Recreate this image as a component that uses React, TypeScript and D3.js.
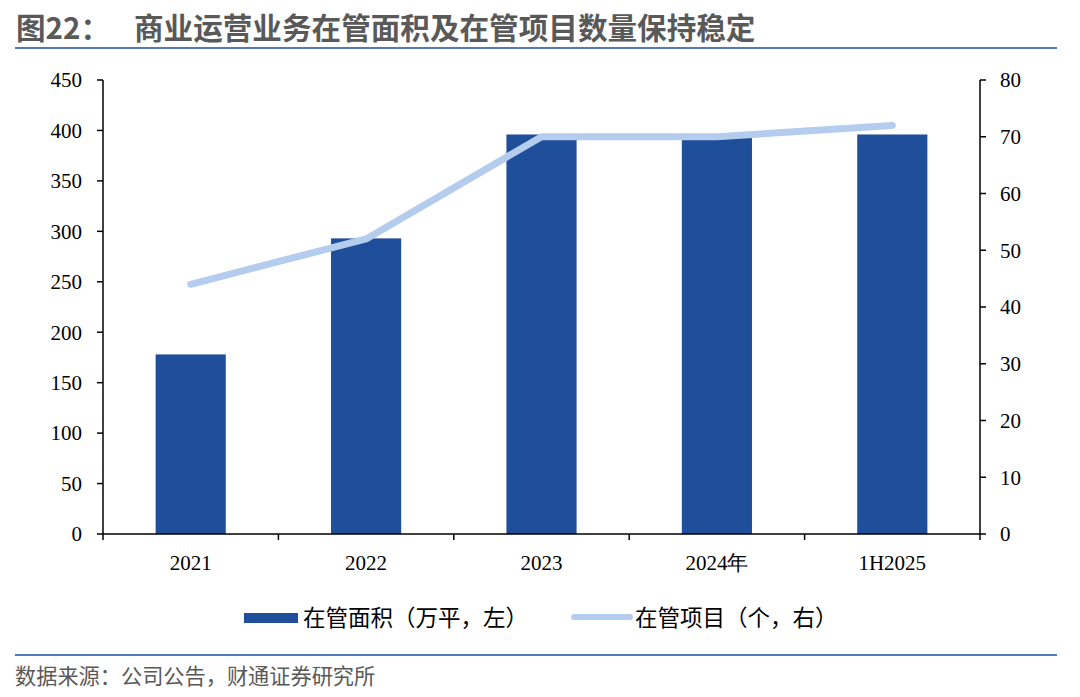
import * as d3 from "d3";

const categories = ["2021", "2022", "2023", "2024年", "1H2025"];
const areaValues = [178, 293, 396, 394, 396]; // 在管面积（万平）
const projectValues = [44, 52, 70, 70, 72]; // 在管项目（个）
const leftTicks = [0, 50, 100, 150, 200, 250, 300, 350, 400, 450];
const rightTicks = [0, 10, 20, 30, 40, 50, 60, 70, 80];

const W = 1080;
const H = 697;
const PLOT = { left: 103, right: 980, top: 80, bottom: 534 };

const BAR = "#1f4e9a";
const LINE = "#b4cdee";
const SERIF = "'Liberation Serif', 'Times New Roman', serif";
const SANS = "'Noto Sans CJK SC', 'Noto Sans', sans-serif";

export default function App() {
  const x = d3
    .scaleBand<string>()
    .domain(categories)
    .range([PLOT.left, PLOT.right])
    .paddingInner(0)
    .paddingOuter(0);
  const yL = d3.scaleLinear().domain([0, 450]).range([PLOT.bottom, PLOT.top]);
  const yR = d3.scaleLinear().domain([0, 80]).range([PLOT.bottom, PLOT.top]);

  const bw = x.bandwidth() * 0.4;
  const cx = (c: string) => (x(c) ?? 0) + x.bandwidth() / 2;

  const line = d3
    .line<number>()
    .x((_d, i) => cx(categories[i]))
    .y((d) => yR(d));

  const bandEdges = categories.map((c) => x(c) ?? 0).concat([PLOT.right]);

  return (
    <div style={{ position: "absolute", left: 0, top: 0 }}>
      <svg width={W} height={H} style={{ display: "block", background: "#fff" }}>
        {/* title */}
        <text x={16} y={39} fontFamily={SANS} fontWeight={700} fontSize={29.6} fill="#595959">
          图22：
        </text>
        <text x={134} y={39} fontFamily={SANS} fontWeight={700} fontSize={29.6} fill="#595959">
          商业运营业务在管面积及在管项目数量保持稳定
        </text>
        <line x1={15} x2={1057} y1={48} y2={48} stroke="#4f7abf" strokeWidth={2} />

        {/* bars */}
        {categories.map((c, i) => (
          <rect
            key={c}
            x={cx(c) - bw / 2}
            y={yL(areaValues[i])}
            width={bw}
            height={yL(0) - yL(areaValues[i])}
            fill={BAR}
          />
        ))}

        {/* line */}
        <path
          d={line(projectValues) ?? ""}
          fill="none"
          stroke={LINE}
          strokeWidth={7}
          strokeLinejoin="round"
          strokeLinecap="round"
        />

        {/* left axis */}
        <line x1={PLOT.left} x2={PLOT.left} y1={PLOT.top} y2={PLOT.bottom} stroke="#000" strokeWidth={1.5} />
        {leftTicks.map((t) => (
          <g key={`l${t}`}>
            <line x1={PLOT.left - 6} x2={PLOT.left} y1={yL(t)} y2={yL(t)} stroke="#000" strokeWidth={1.5} />
            <text
              x={PLOT.left - 21}
              y={yL(t)}
              dy="0.35em"
              textAnchor="end"
              fontFamily={SERIF}
              fontSize={21}
              fill="#000"
            >
              {t}
            </text>
          </g>
        ))}

        {/* right axis */}
        <line x1={PLOT.right} x2={PLOT.right} y1={PLOT.top} y2={PLOT.bottom} stroke="#000" strokeWidth={1.5} />
        {rightTicks.map((t) => (
          <g key={`r${t}`}>
            <line x1={PLOT.right} x2={PLOT.right + 6} y1={yR(t)} y2={yR(t)} stroke="#000" strokeWidth={1.5} />
            <text
              x={PLOT.right + 20}
              y={yR(t)}
              dy="0.35em"
              textAnchor="start"
              fontFamily={SERIF}
              fontSize={21}
              fill="#000"
            >
              {t}
            </text>
          </g>
        ))}

        {/* bottom axis */}
        <line x1={PLOT.left} x2={PLOT.right} y1={PLOT.bottom} y2={PLOT.bottom} stroke="#000" strokeWidth={1.5} />
        {bandEdges.map((e, i) => (
          <line key={`b${i}`} x1={e} x2={e} y1={PLOT.bottom} y2={PLOT.bottom + 6} stroke="#000" strokeWidth={1.5} />
        ))}
        {categories.map((c) => (
          <text key={`x${c}`} x={cx(c)} y={570} textAnchor="middle" fontFamily={SERIF} fontSize={21} fill="#000">
            {c}
          </text>
        ))}

        {/* legend */}
        <rect x={244} y={613} width={54} height={10} fill={BAR} />
        <text x={303} y={626} fontFamily={SANS} fontSize={22.5} fill="#000">
          在管面积（万平，左）
        </text>
        <line x1={574} x2={630} y1={617} y2={617} stroke={LINE} strokeWidth={6} strokeLinecap="round" />
        <text x={635} y={626} fontFamily={SANS} fontSize={22.5} fill="#000">
          在管项目（个，右）
        </text>

        {/* source */}
        <line x1={15} x2={1057} y1={655} y2={655} stroke="#4f7abf" strokeWidth={2} />
        <text x={15} y={684} fontFamily={SANS} fontSize={21.2} fill="#595959">
          数据来源：公司公告，财通证券研究所
        </text>
      </svg>
    </div>
  );
}
